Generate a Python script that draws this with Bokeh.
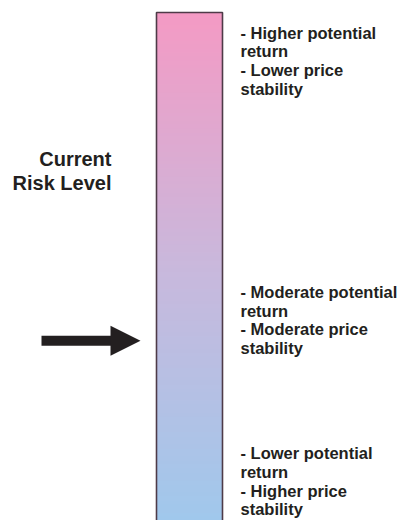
from bokeh.plotting import figure
from bokeh.models import Range1d
from bokeh.core.properties import value
from bokeh.embed import file_html
from bokeh.resources import INLINE

# ---- data ----
level_names = ["High", "Moderate", "Low"]
level_lines = [
    ["- Higher potential", "return", "- Lower price", "stability"],
    ["- Moderate potential", "return", "- Moderate price", "stability"],
    ["- Lower potential", "return", "- Higher price", "stability"],
]
level_risk = [96, 45, 13.2]        # risk position (0 lowest .. 100 highest) of each description
current_risk = 35.4                # position of the arrow on the risk scale
pointer_label = ["Current", "Risk Level"]
gradient_stops = ["#F49AC4", "#C9B8DC", "#A0C8EC"]  # top, middle, bottom

# ---- layout ----
W, H = 401, 520
OX, OY = 0, 0
BAR_TOP, BAR_BOTTOM = 12, 520      # page pixels for risk 100 .. 0
BAR_L, BAR_R = 156, 222
FONT = value("Liberation Sans")
INK = "#231F20"

def ry(r):
    return BAR_BOTTOM - r * (BAR_BOTTOM - BAR_TOP) / 100.0

def hex2rgb(h):
    h = h.lstrip("#")
    return [int(h[i:i + 2], 16) for i in (0, 2, 4)]

p = figure(width=W, height=H, x_range=Range1d(OX, OX + W), y_range=Range1d(OY + H, OY),
           output_backend="svg", toolbar_location=None, min_border=0,
           x_axis_location=None, y_axis_location=None)
p.grid.visible = False
p.outline_line_color = None
p.background_fill_color = "white"

# gradient bar
N = 127
stops = [hex2rgb(c) for c in gradient_stops]
tops, bottoms, cols = [], [], []
for i in range(N):
    t = (i + 0.5) / N
    seg = t * (len(stops) - 1)
    k = min(int(seg), len(stops) - 2)
    f = seg - k
    c = [round(stops[k][j] + (stops[k + 1][j] - stops[k][j]) * f) for j in range(3)]
    tops.append(ry(100 - 100 * i / N))
    bottoms.append(ry(100 - 100 * (i + 1) / N) + 0.6)
    cols.append("#%02x%02x%02x" % tuple(c))
p.quad(left=BAR_L, right=BAR_R, top=tops, bottom=bottoms, fill_color=cols, line_color=None)
p.quad(left=[BAR_L], right=[BAR_R], top=[ry(100)], bottom=[ry(-3)],
       fill_color=None, line_color="#4E3B48", line_width=1.6)

# descriptions
xs, ys, txt = [], [], []
for r, lines in zip(level_risk, level_lines):
    y0 = ry(r)
    for j, s in enumerate(lines):
        xs.append(240)
        ys.append(y0 + j * 18.6)
        txt.append(s)
p.text(x=xs, y=ys, text=txt, text_font=FONT, text_font_style="bold",
       text_font_size="16.5px", text_color=INK, text_baseline="alphabetic", text_align="left")

# pointer label
p.text(x=[111, 111], y=[158, 182], text=pointer_label, text_font=FONT, text_font_style="bold",
       text_font_size="20px", text_color=INK, text_baseline="alphabetic", text_align="right")

# arrow
ya = ry(current_risk)
p.quad(left=[41], right=[111], top=[ya - 5], bottom=[ya + 5], fill_color=INK, line_color=None)
p.patch(x=[110, 140, 110], y=[ya - 15, ya, ya + 15], fill_color=INK, line_color=None)

open("out.html", "w").write(file_html(p, INLINE))
